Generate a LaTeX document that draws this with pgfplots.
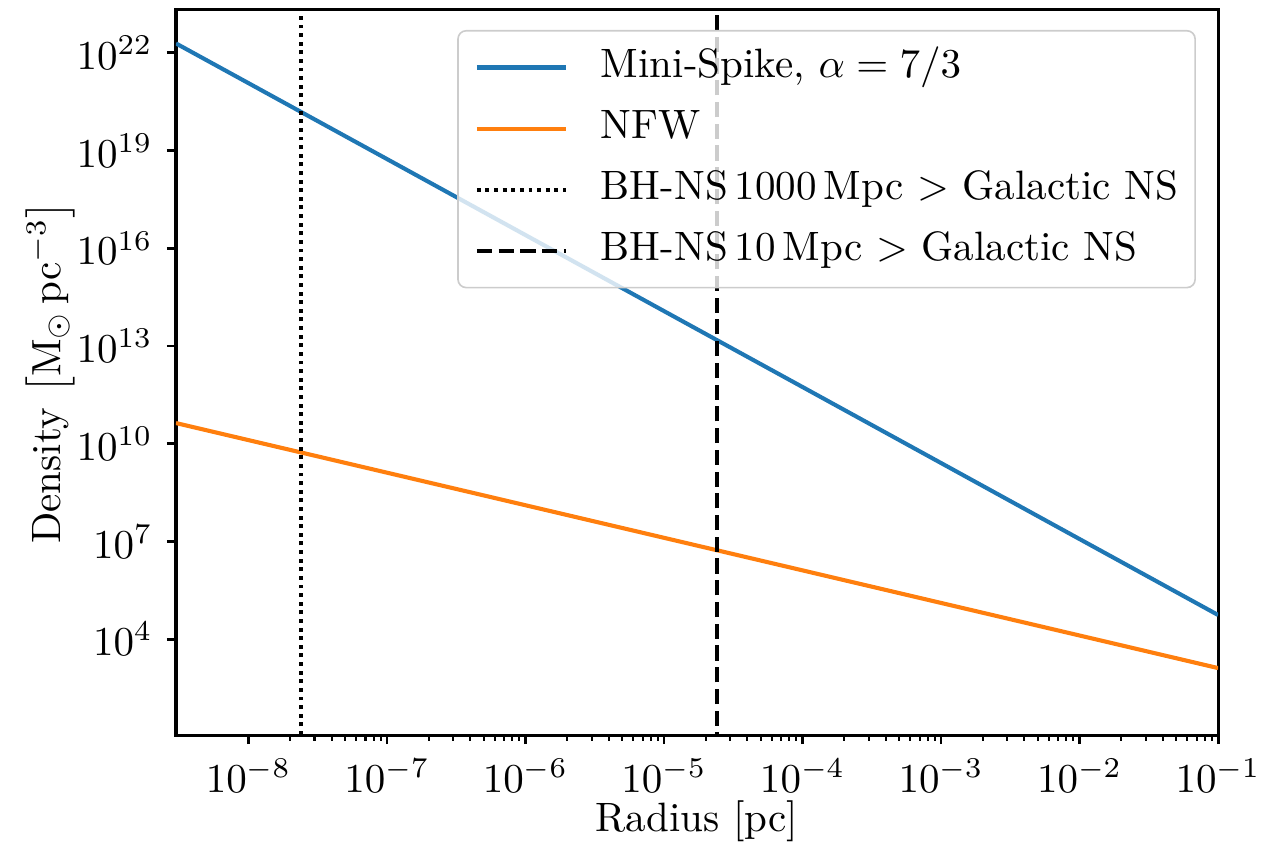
\documentclass[border=0pt]{standalone}
\usepackage{pgfplots}
\pgfplotsset{compat=1.18}
\usetikzlibrary{calc}
\definecolor{tabblue}{HTML}{1F77B4}
\definecolor{taborange}{HTML}{FF7F0E}
\begin{document}
\begin{tikzpicture}
\begin{axis}[
  name=ax,
  scale only axis, width=254pt, height=176.8pt,
  xmode=log, ymode=log,
  xmin=3e-9, xmax=0.1, ymin=11.2, ymax=2.1e23,
  xtick={1e-8,1e-7,1e-6,1e-5,1e-4,1e-3,1e-2,1e-1},
  ytick={1e4,1e7,1e10,1e13,1e16,1e19,1e22},
  yminorticks=false,
  xtick pos=bottom, ytick pos=left,
  tick align=outside,
  major tick length=2.2pt, minor tick length=1.3pt,
  every tick/.style={black, line width=0.7pt},
  minor tick style={line width=0.5pt},
  axis line style={line width=0.75pt},
  xlabel={Radius [pc]},
  ylabel={Density $\left[\mathrm{M}_{\odot}\,\mathrm{pc}^{-3}\right]$},
  xlabel style={at={(axis description cs:0.5,-0.118)}, anchor=center},
  ylabel style={at={(axis description cs:-0.1209,0.5)}, anchor=center},
  legend style={at={(rel axis cs:1,1)}, anchor=north east, xshift=-5.4pt, yshift=-4.9pt,
    draw=black!20, rounded corners=2pt, fill=white, fill opacity=0.8, text opacity=1,
    inner xsep=4.1pt, inner ysep=3.9pt, row sep=4.8pt, column sep=8pt,
    nodes={inner sep=0pt, text height=7.5pt, text depth=2.6pt}},
  legend cell align=left,
  legend image code/.code={\draw[#1] (0pt,0pt) -- (21.7pt,0pt);},
]
\addplot[tabblue, line width=1pt] coordinates {
(3e-9,1.95e22) (1e-8,1.18e21) (1e-7,5.5e18) (1e-6,2.55e16) (1e-5,1.18e14)
(1e-4,5.5e11) (1e-3,2.55e9) (1e-2,1.18e7) (1e-1,5.5e4)};
\addlegendentry{Mini-Spike, $\alpha = 7/3$}
\addplot[taborange, line width=1pt] coordinates {
(3e-9,4.3e10) (1e-8,1.29e10) (1e-7,1.29e9) (1e-6,1.29e8) (1e-5,1.29e7)
(1e-4,1.29e6) (1e-3,1.29e5) (1e-2,1.29e4) (1e-1,1.29e3)};
\addlegendentry{NFW}
\addplot[black, line width=1pt, dash pattern=on 0.95pt off 1.15pt] coordinates {(2.4e-8,1) (2.4e-8,1e25)};
\addlegendentry{BH-NS\,1000\,Mpc $>$ Galactic NS}
\addplot[black, line width=1pt, dash pattern=on 3.7pt off 1.6pt] coordinates {(2.4e-5,1) (2.4e-5,1e25)};
\addlegendentry{BH-NS\,10\,Mpc $>$ Galactic NS}
\end{axis}
\pgfresetboundingbox
\path ($(ax.south west)+(-42.9pt,-26.3pt)$) rectangle ($(ax.north east)+(16.3pt,2.4pt)$);
\end{tikzpicture}
\end{document}
